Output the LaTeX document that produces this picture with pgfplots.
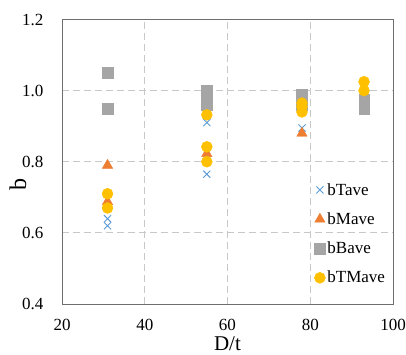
\documentclass[border=0pt]{standalone}
\usepackage{pgfplots}
\pgfplotsset{compat=1.18}
\usepackage{fontspec}
\setmainfont{Liberation Serif}
\definecolor{cT}{RGB}{91,155,213}
\definecolor{cM}{RGB}{237,125,49}
\definecolor{cB}{RGB}{165,165,165}
\definecolor{cTM}{RGB}{255,192,0}
\definecolor{gridc}{RGB}{200,200,200}
\definecolor{axc}{RGB}{110,110,110}
\begin{document}
\begin{tikzpicture}
\begin{axis}[name=ax,
  scale only axis, width=331pt, height=284.5pt,
  xmin=20, xmax=100, ymin=0.4, ymax=1.2,
  xtick={20,40,60,80,100}, ytick={0.4,0.6,...,1.21},
  /pgf/number format/assume math mode=true,
  yticklabel style={/pgf/number format/fixed, /pgf/number format/fixed zerofill, /pgf/number format/precision=1, xshift=-15pt},
  ticklabel style={font=\fontsize{17}{19}\selectfont},
  major tick length=0pt,
  xtick style={draw=none}, ytick style={draw=none},
  xticklabel style={yshift=-12pt},
  grid=major,
  major grid style={gridc, line width=0.9pt, dash pattern=on 7pt off 4pt},
  axis line style={axc, line width=0.9pt},
  xlabel={D/t}, ylabel={b},
  xlabel style={font=\fontsize{21}{24}\selectfont, at={(axis description cs:0.5,-0.14)}, anchor=center},
  ylabel style={font=\fontsize{24}{26}\selectfont, at={(axis description cs:-0.133,0.42)}, anchor=center},
  legend style={draw=none, fill=none, at={(rel axis cs:0.762,0.432)}, anchor=north west,
    font=\fontsize{17}{19}\selectfont, row sep=12pt, inner sep=0pt,
    /tikz/every even column/.append style={column sep=0pt}},
  legend cell align=left,
  legend image code/.code={\draw[#1] plot coordinates {(0.2cm,0cm)};},
]
\addplot[only marks, mark=x, mark size=5pt, draw=cT, line width=0.9pt] coordinates {
 (31,0.64) (31,0.62) (55,0.91) (55,0.765) (78,0.895)};
\addlegendentry{bTave}
\addplot[only marks, mark=triangle*, mark size=6pt, draw=cM, fill=cM] coordinates {
 (31,0.79) (31,0.688) (55,0.823) (78,0.88)};
\addlegendentry{bMave}
\addplot[only marks, mark=square*, mark size=5.3pt, draw=cB, fill=cB] coordinates {
 (31,1.05) (31,0.95) (55,1.0) (55,0.98) (55,0.96) (78,0.99) (78,0.96) (93,0.975) (93,0.95)};
\addlegendentry{bBave}
\addplot[only marks, mark=*, mark size=5.5pt, draw=cTM, fill=cTM] coordinates {
 (31,0.71) (31,0.67) (55,0.932) (55,0.842) (55,0.80) (78,0.965) (78,0.955) (78,0.94) (93,1.025) (93,1.0)};
\addlegendentry{bTMave}
\end{axis}
\pgfresetboundingbox
\path[use as bounding box] ([shift={(-62pt,-51pt)}]ax.south west) rectangle ([shift={(13pt,19.5pt)}]ax.north east);
\end{tikzpicture}
\end{document}
